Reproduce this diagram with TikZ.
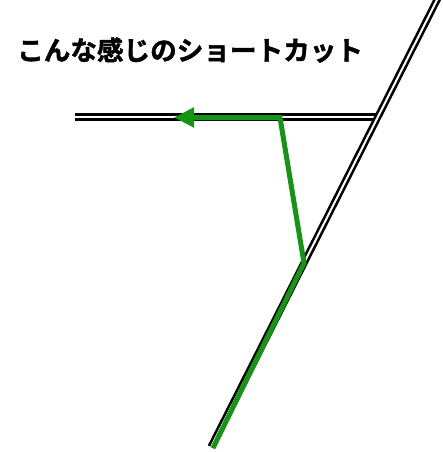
\documentclass[tikz,border=0pt]{standalone}
\usepackage{fontspec}
\newfontfamily\jpfont{Noto Sans CJK JP}[BoldFont={* Bold}, BoldFeatures={FakeBold=1.5}]
\usetikzlibrary{arrows.meta}
\definecolor{roadgreen}{RGB}{20,150,20}
\tikzset{
  road/.style={double=white, draw=black, line width=2.6pt, double distance=2pt},
  route/.style={draw=roadgreen, line width=5pt, line join=miter},
  lbl/.style={font=\jpfont\bfseries\fontsize{26.6}{27}\selectfont, anchor=west, inner sep=0pt}
}
\begin{document}
\begin{tikzpicture}[x=1pt,y=-1pt]
\useasboundingbox (0,0) rectangle (442,452);
\fill[white] (0,0) rectangle (442,452);
\coordinate (hl) at (75,117);
\coordinate (hr) at (378,117);
\coordinate (dtop) at (438,-2);
\coordinate (dbot) at (211,447);
\coordinate (gstart) at (213,448);
\coordinate (gbend) at (304,263);
\coordinate (gcorner) at (280,117.5);
\coordinate (gtip) at (174,117.5);
\draw[road] (hl) -- (hr);
\draw[road] (dbot) -- (dtop);
\draw[route, -{Triangle[length=20pt,width=19pt]}] (gstart) -- (gbend) -- (gcorner) -- (gtip);
\node[lbl] (title) at (17,50) {こんな感じのショートカット};
\end{tikzpicture}
\end{document}
